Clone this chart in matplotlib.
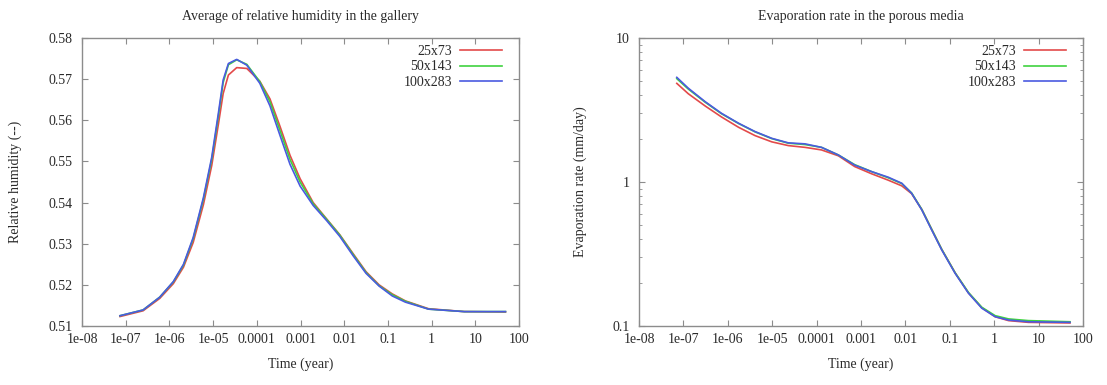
import matplotlib
matplotlib.use("Agg")
import matplotlib.pyplot as plt
from matplotlib.ticker import FixedLocator, NullLocator, LogLocator, NullFormatter

# ---------------------------------------------------------------
#   Mesh comparison: humidity in the gallery / evaporation rate
# ---------------------------------------------------------------

labels = ['25x73', '50x143', '100x283']
colors = ['#e34a4a', '#3fd23f', '#4a5ae0']

# left plot: average relative humidity in the gallery
t_rh = [7.4e-8, 2.5e-7, 6.0e-7, 1.23e-6, 2.1e-6, 3.5e-6, 6.0e-6, 9.3e-6, 1.32e-5,
        1.7e-5, 2.24e-5, 3.47e-5, 5.9e-5, 1.17e-4, 2.0e-4, 3.4e-4, 5.75e-4, 9.8e-4,
        1.95e-3, 3.98e-3, 7.9e-3, 1.62e-2, 3.16e-2, 6.3e-2, 0.126, 0.251, 0.85,
        5.6, 49.0]
rh_25 = [0.5123, 0.5137, 0.5167, 0.5203, 0.5243, 0.5303, 0.5395, 0.5490, 0.5590,
         0.5665, 0.5710, 0.5728, 0.5726, 0.5695, 0.5652, 0.5585, 0.5515, 0.5458,
         0.5400, 0.5360, 0.5322, 0.5275, 0.5232, 0.5200, 0.5178, 0.5161, 0.5142,
         0.5135, 0.5134]
rh_50 = [0.5125, 0.5139, 0.5170, 0.5207, 0.5248, 0.5312, 0.5408, 0.5505, 0.5610,
         0.5692, 0.5735, 0.5747, 0.5736, 0.5694, 0.5645, 0.5575, 0.5505, 0.5450,
         0.5397, 0.5359, 0.5321, 0.5273, 0.5230, 0.5198, 0.5176, 0.5160, 0.5141,
         0.5135, 0.5135]
rh_100 = [0.5125, 0.5139, 0.5170, 0.5208, 0.5250, 0.5315, 0.5412, 0.5510, 0.5617,
          0.5698, 0.5738, 0.5748, 0.5734, 0.5690, 0.5635, 0.5563, 0.5493, 0.5440,
          0.5393, 0.5356, 0.5318, 0.5270, 0.5228, 0.5197, 0.5173, 0.5158, 0.5141,
          0.5135, 0.5135]

# right plot: evaporation rate in the porous media (mm/day)
t_ev = [7.1e-8, 1.29e-7, 3.1e-7, 7.2e-7, 1.74e-6, 4.1e-6, 9.8e-6, 2.3e-5, 5.5e-5,
        1.29e-4, 3.1e-4, 7.2e-4, 1.74e-3, 4.1e-3, 8.3e-3, 1.38e-2, 2.34e-2, 3.9e-2,
        6.6e-2, 0.132, 0.263, 0.525, 1.05, 2.1, 5.9, 51.0]
ev_25 = [4.84, 4.10, 3.37, 2.83, 2.40, 2.10, 1.90, 1.79, 1.74, 1.67, 1.52, 1.28,
         1.14, 1.03, 0.94, 0.83, 0.645, 0.47, 0.34, 0.234, 0.170, 0.134, 0.116,
         0.109, 0.106, 0.105]
ev_50 = [5.22, 4.42, 3.58, 2.98, 2.55, 2.23, 2.00, 1.86, 1.82, 1.74, 1.54, 1.32,
         1.18, 1.07, 0.975, 0.84, 0.645, 0.47, 0.34, 0.234, 0.171, 0.135, 0.118,
         0.112, 0.109, 0.107]
ev_100 = [5.33, 4.48, 3.61, 3.00, 2.56, 2.24, 2.01, 1.87, 1.84, 1.74, 1.54, 1.31,
          1.18, 1.08, 0.98, 0.835, 0.640, 0.465, 0.337, 0.232, 0.169, 0.133, 0.116,
          0.110, 0.107, 0.106]

xticks = [1e-8, 1e-7, 1e-6, 1e-5, 1e-4, 1e-3, 1e-2, 1e-1, 1, 10, 100]
xticklabels = ['1e-08', '1e-07', '1e-06', '1e-05', '0.0001', '0.001', '0.01',
               '0.1', '1', '10', '100']
rh_ticks = [0.51, 0.52, 0.53, 0.54, 0.55, 0.56, 0.57, 0.58]
ev_ticks = [0.1, 1, 10]

plt.rcParams['font.family'] = ['Liberation Serif', 'DejaVu Serif']
plt.rcParams['font.size'] = 10

fig = plt.figure(figsize=(11.07, 3.85), dpi=100)
ax1 = fig.add_axes([82 / 1107, 59 / 385, 437 / 1107, 288 / 385])
ax2 = fig.add_axes([639 / 1107, 59 / 385, 444 / 1107, 288 / 385])


def style_axes(ax, title, ylabel, ylab_x):
    for s in ax.spines.values():
        s.set_color('#8c8c8c')
        s.set_linewidth(1.0)
    ax.set_xscale('log')
    ax.set_xlim(1e-8, 100)
    ax.xaxis.set_major_locator(FixedLocator(xticks))
    ax.set_xticklabels(xticklabels)
    ax.xaxis.set_minor_locator(NullLocator())
    ax.tick_params(which='both', direction='in', top=True, right=True,
                   color='#8c8c8c', colors='#2a2a2a')
    ax.tick_params(which='major', length=4, width=0.8)
    ax.tick_params(which='minor', length=2, width=0.6)
    ax.tick_params(axis='x', pad=5)
    ax.tick_params(axis='y', pad=7)
    ax.set_xlabel('Time (year)', color='#2a2a2a')
    ax.xaxis.set_label_coords(0.5, -0.108)
    ax.set_ylabel(ylabel, color='#2a2a2a')
    ax.yaxis.set_label_coords(ylab_x, 0.5)
    ax.text(0.5, 1.076, title, transform=ax.transAxes, ha='center',
            va='center', color='#2a2a2a')


# --- left plot
style_axes(ax1, 'Average of relative humidity in the gallery',
           'Relative humidity (--)', -0.138)
for y, c, l in zip([rh_25, rh_50, rh_100], colors, labels):
    ax1.plot(t_rh, y, color=c, lw=1.2, label=l)
ax1.set_ylim(0.51, 0.58)
ax1.set_yticks(rh_ticks)
ax1.set_yticklabels(['%.2f' % v for v in rh_ticks])

# --- right plot
style_axes(ax2, 'Evaporation rate in the porous media',
           'Evaporation rate (mm/day)', -0.116)
for y, c, l in zip([ev_25, ev_50, ev_100], colors, labels):
    ax2.plot(t_ev, y, color=c, lw=1.2, label=l)
ax2.set_yscale('log')
ax2.set_ylim(0.1, 10)
ax2.yaxis.set_major_locator(FixedLocator(ev_ticks))
ax2.set_yticklabels(['0.1', '1', '10'])
ax2.yaxis.set_minor_locator(LogLocator(base=10, subs=range(2, 10)))
ax2.yaxis.set_minor_formatter(NullFormatter())

for ax, w in ((ax1, 437), (ax2, 444)):
    leg = ax.legend(loc='upper right', frameon=False, markerfirst=False,
                    bbox_to_anchor=(1 - 17 / w, 1 - 7 / 288), borderpad=0,
                    borderaxespad=0, handlelength=3.0, handletextpad=0.6,
                    labelspacing=0.18, fontsize=10)
    for txt in leg.get_texts():
        txt.set_color('#2a2a2a')

fig.savefig('out.png', dpi=100)
